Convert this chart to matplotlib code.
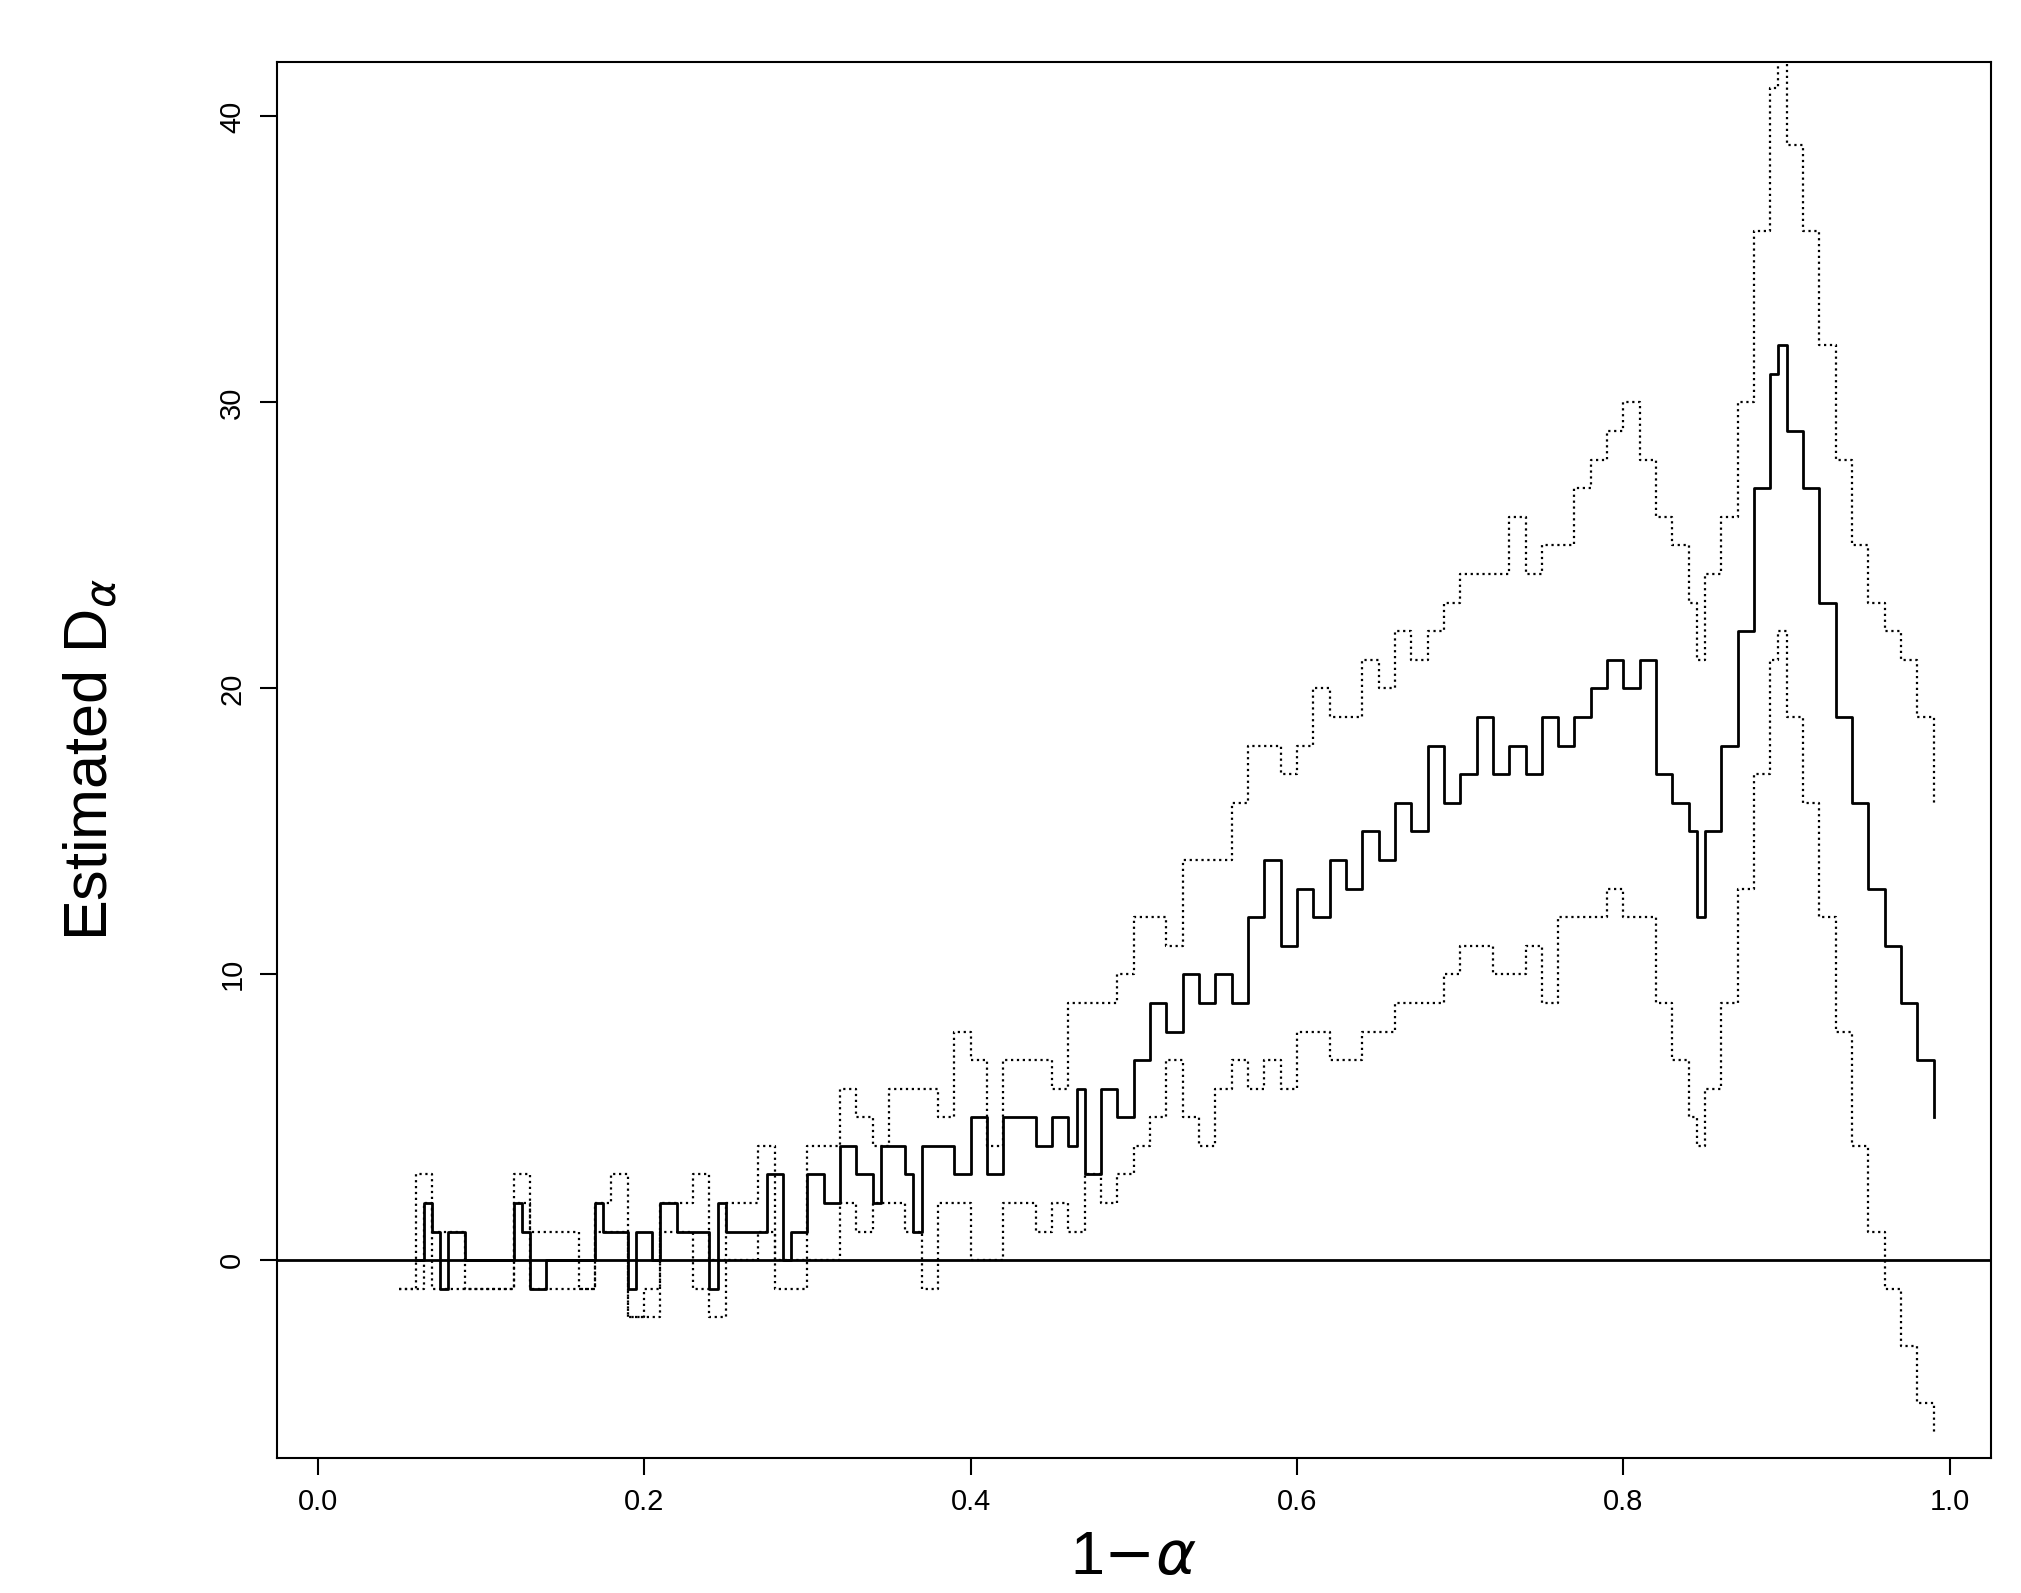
import matplotlib
matplotlib.use("Agg")
import matplotlib.pyplot as plt

mid_x = [0.06,0.065,0.07,0.075,0.08,0.09,0.10,0.115,0.12,0.125,0.13,0.14,0.16,0.17,0.175,0.19,0.195,0.205,0.21,0.22,0.24,0.245,0.25,0.27,0.275,0.285,0.29,0.30,0.31,0.32,0.33,0.34,0.345,0.36,0.365,0.37,0.38,0.39,0.40,0.41,0.42,0.44,0.45,0.46,0.465,0.47,0.48,0.49,0.50,0.51,0.52,0.53,0.54,0.55,0.56,0.57,0.58,0.59,0.60,0.61,0.62,0.63,0.64,0.65,0.66,0.67,0.68,0.69,0.70,0.71,0.72,0.73,0.74,0.75,0.76,0.77,0.78,0.79,0.80,0.81,0.82,0.83,0.84,0.845,0.85,0.86,0.87,0.88,0.89,0.895,0.90,0.91,0.92,0.93,0.94,0.95,0.96,0.97,0.98,0.99]
mid_y = [0,2,1,-1,1,0,0,0,2,1,-1,0,0,2,1,-1,1,0,2,1,-1,2,1,1,3,0,1,3,2,4,3,2,4,3,1,4,4,3,5,3,5,4,5,4,6,3,6,5,7,9,8,10,9,10,9,12,14,11,13,12,14,13,15,14,16,15,18,16,17,19,17,18,17,19,18,19,20,21,20,21,17,16,15,12,15,18,22,27,31,32,29,27,23,19,16,13,11,9,7,5]

up_x = [0.05,0.06,0.07,0.08,0.09,0.115,0.12,0.13,0.14,0.16,0.17,0.18,0.19,0.20,0.21,0.23,0.24,0.25,0.27,0.28,0.30,0.32,0.33,0.34,0.35,0.37,0.38,0.39,0.40,0.41,0.42,0.44,0.45,0.46,0.48,0.49,0.50,0.52,0.53,0.55,0.56,0.57,0.59,0.60,0.61,0.62,0.63,0.64,0.65,0.66,0.67,0.68,0.69,0.70,0.72,0.73,0.74,0.75,0.76,0.77,0.78,0.79,0.80,0.81,0.82,0.83,0.84,0.845,0.85,0.86,0.87,0.88,0.89,0.895,0.90,0.91,0.92,0.93,0.94,0.95,0.96,0.97,0.98,0.99]
up_y = [-1,3,1,1,-1,-1,3,1,1,-1,2,3,-2,-2,2,3,0,2,4,0,4,6,5,4,6,6,5,8,7,4,7,7,6,9,9,10,12,11,14,14,16,18,17,18,20,19,19,21,20,22,21,22,23,24,24,26,24,25,25,27,28,29,30,28,26,25,23,21,24,26,30,36,41,42,39,36,32,28,25,23,22,21,19,16]

lo_x = [0.05,0.06,0.065,0.07,0.08,0.09,0.115,0.12,0.13,0.16,0.17,0.18,0.19,0.20,0.21,0.23,0.24,0.25,0.27,0.28,0.30,0.32,0.33,0.34,0.36,0.37,0.38,0.40,0.41,0.42,0.44,0.45,0.46,0.47,0.48,0.49,0.50,0.51,0.52,0.53,0.54,0.55,0.56,0.57,0.58,0.59,0.60,0.62,0.64,0.66,0.68,0.69,0.70,0.72,0.74,0.75,0.76,0.78,0.79,0.80,0.81,0.82,0.83,0.84,0.845,0.85,0.86,0.87,0.88,0.89,0.895,0.90,0.91,0.92,0.93,0.94,0.95,0.96,0.97,0.98,0.99]
lo_y = [-1,-1,2,-1,-1,-1,-1,2,-1,-1,1,1,-2,-1,1,-1,-2,0,1,-1,0,2,1,2,1,-1,2,0,0,2,1,2,1,3,2,3,4,5,7,5,4,6,7,6,7,6,8,7,8,9,9,10,11,10,11,9,12,12,13,12,12,9,7,5,4,6,9,13,17,21,22,19,16,12,8,4,1,-1,-3,-5,-6]

x_ticks = [0.0, 0.2, 0.4, 0.6, 0.8, 1.0]
y_ticks = [0, 10, 20, 30, 40]

plt.rcParams['font.family'] = ['Liberation Sans', 'DejaVu Sans']
plt.rcParams['mathtext.fontset'] = 'dejavusans'
fig = plt.figure(figsize=(20.21, 15.93), dpi=100)
ax = fig.add_axes([0.137, 0.085, 0.848, 0.876])
ax.step(up_x, up_y, where='post', color='black', lw=1.6, ls=':')
ax.step(lo_x, lo_y, where='post', color='black', lw=1.6, ls=':')
ax.step(mid_x, mid_y, where='post', color='black', lw=2.0)
ax.axhline(0, color='black', lw=2)
ax.set_xlim(-0.025, 1.025)
ax.set_ylim(-6.9, 41.9)
ax.set_xticks(x_ticks)
ax.set_xticklabels([f"{v:.1f}" for v in x_ticks], fontsize=21)
ax.set_yticks(y_ticks)
ax.set_yticklabels([str(v) for v in y_ticks], fontsize=21, rotation=90, va='center')
ax.tick_params(length=12, width=1.5, pad=10)
for s in ax.spines.values():
    s.set_linewidth(1.5)
ax.set_xlabel(r"1$-\alpha$", fontsize=44, labelpad=10)
ax.set_ylabel(r"Estimated D$_\alpha$", fontsize=44, labelpad=70)
fig.savefig("out.png", dpi=100)
